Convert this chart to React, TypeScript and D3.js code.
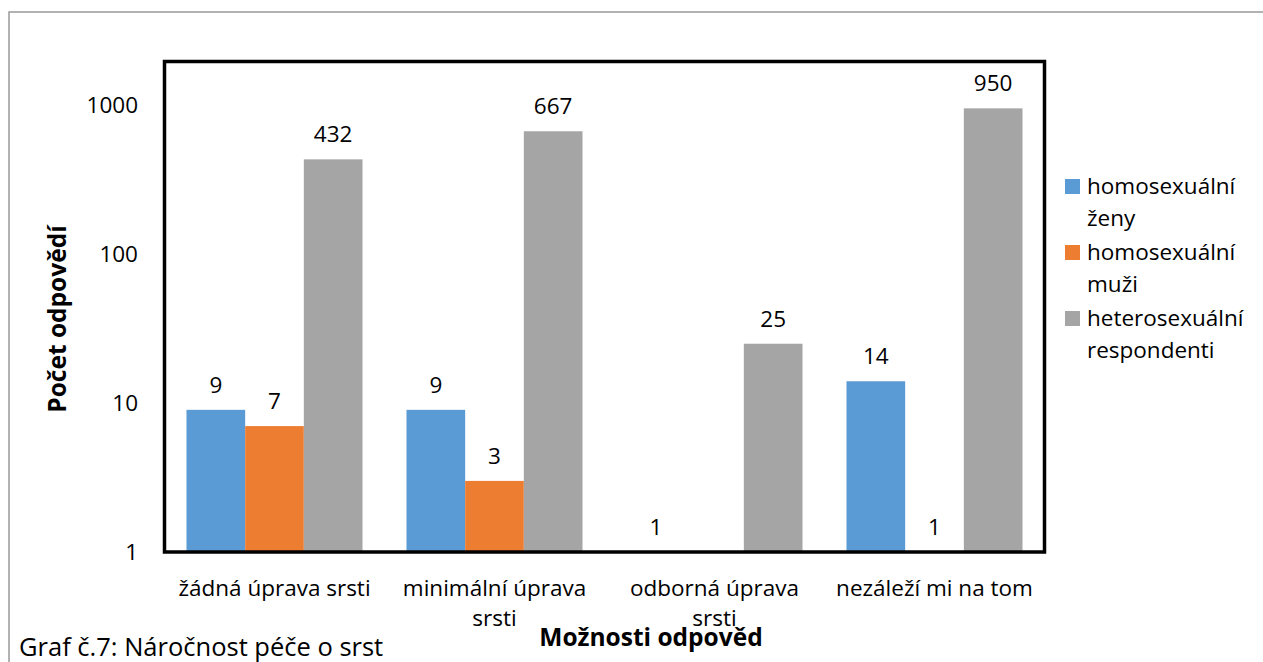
import * as d3 from 'd3'

// ── data ─────────────────────────────────────────────────────────────────────
const categories = ['žádná úprava srsti', 'minimální úprava srsti', 'odborná úprava srsti', 'nezáleží mi na tom']
const categoryLines = [['žádná úprava srsti'], ['minimální úprava', 'srsti'], ['odborná úprava', 'srsti'], ['nezáleží mi na tom']]

const seriesKeys  = ['zeny', 'muzi', 'hetero']
const seriesLines = [['homosexuální', 'ženy'], ['homosexuální', 'muži'], ['heterosexuální', 'respondenti']]
const seriesCols  = ['#5B9BD5', '#ED7D31', '#A5A5A5']

const zeny   = [9, 9, 1, 14]
const muzi   = [7, 3, null, 1]
const hetero = [432, 667, 25, 950]

const yTicks = [1, 10, 100, 1000]

const yTitle  = 'Počet odpovědí'
const xTitle  = 'Možnosti odpověd'
const caption = 'Graf č.7: Náročnost péče o srst'

// ── layout ───────────────────────────────────────────────────────────────────
const W = 1263, H = 662
const P = { left: 164.5, right: 1044.5, top: 61.5, bottom: 552 }
const FONT = '"Open Sans", Lato, sans-serif'
const FS = 22.5   // ticks, data labels, legend
const FT = 24.5   // axis titles
const FC = 25.5   // caption

export default function App() {
  const values = [zeny, muzi, hetero]

  const x0 = d3.scaleBand<string>()
    .domain(categories)
    .range([P.left, P.right])
    .paddingInner(0.2)
    .paddingOuter(0.1)
  const x1 = d3.scaleBand<string>().domain(seriesKeys).range([0, x0.bandwidth()])
  const y = d3.scaleLog().domain([1, 1960]).range([P.bottom, P.top])

  return (
    <svg width={W} height={H} style={{ position: 'absolute', left: 0, top: 0, fontFamily: FONT }}>
      <rect x={0} y={0} width={W} height={H} fill="#fff" />
      {/* outer chart border */}
      <path d={`M9,${H} V12 H${W}`} fill="none" stroke="#999" strokeWidth={1.5} />

      {/* bars */}
      {categories.map((c, i) => (
        <g key={c} transform={`translate(${x0(c)},0)`}>
          {seriesKeys.map((k, s) => {
            const v = values[s][i]
            if (v == null) return null
            return (
              <g key={k}>
                <rect
                  x={x1(k)} width={x1.bandwidth()}
                  y={y(v)} height={P.bottom - y(v)}
                  fill={seriesCols[s]}
                />
                <text
                  x={(x1(k) ?? 0) + x1.bandwidth() / 2} y={y(v) - 25} dy="0.35em"
                  textAnchor="middle" fontSize={FS} fill="#000"
                >{v}</text>
              </g>
            )
          })}
        </g>
      ))}

      {/* plot frame */}
      <rect
        x={P.left} y={P.top} width={P.right - P.left} height={P.bottom - P.top}
        fill="none" stroke="#000" strokeWidth={3.5}
      />

      {/* y axis labels */}
      {yTicks.map(t => (
        <text key={t} x={138} y={y(t)} dy="0.35em" textAnchor="end" fontSize={FS} fill="#000">{t}</text>
      ))}
      <text
        transform={`translate(57,319) rotate(-90)`} dy="0.35em"
        textAnchor="middle" fontSize={FT} fontWeight="bold" fill="#000"
      >{yTitle}</text>

      {/* x axis labels */}
      {categories.map((c, i) => (
        <text key={c} textAnchor="middle" fontSize={FS} fill="#000">
          {categoryLines[i].map((ln, j) => (
            <tspan key={j} x={(x0(c) ?? 0) + x0.bandwidth() / 2} y={588 + j * 30} dy="0.35em">{ln}</tspan>
          ))}
        </text>
      ))}
      <text x={651} y={637} dy="0.35em" textAnchor="middle" fontSize={FT} fontWeight="bold" fill="#000">{xTitle}</text>

      {/* legend */}
      {seriesKeys.map((k, s) => (
        <g key={k} transform={`translate(1065,${179 + s * 66})`}>
          <rect width={15} height={15} fill={seriesCols[s]} />
          <text fontSize={FS} fill="#000">
            {seriesLines[s].map((ln, j) => (
              <tspan key={j} x={22} y={7.5 + j * 32} dy="0.35em">{ln}</tspan>
            ))}
          </text>
        </g>
      ))}

      {/* caption */}
      <text x={19} y={647} dy="0.35em" fontSize={FC} fill="#000">{caption}</text>
    </svg>
  )
}
